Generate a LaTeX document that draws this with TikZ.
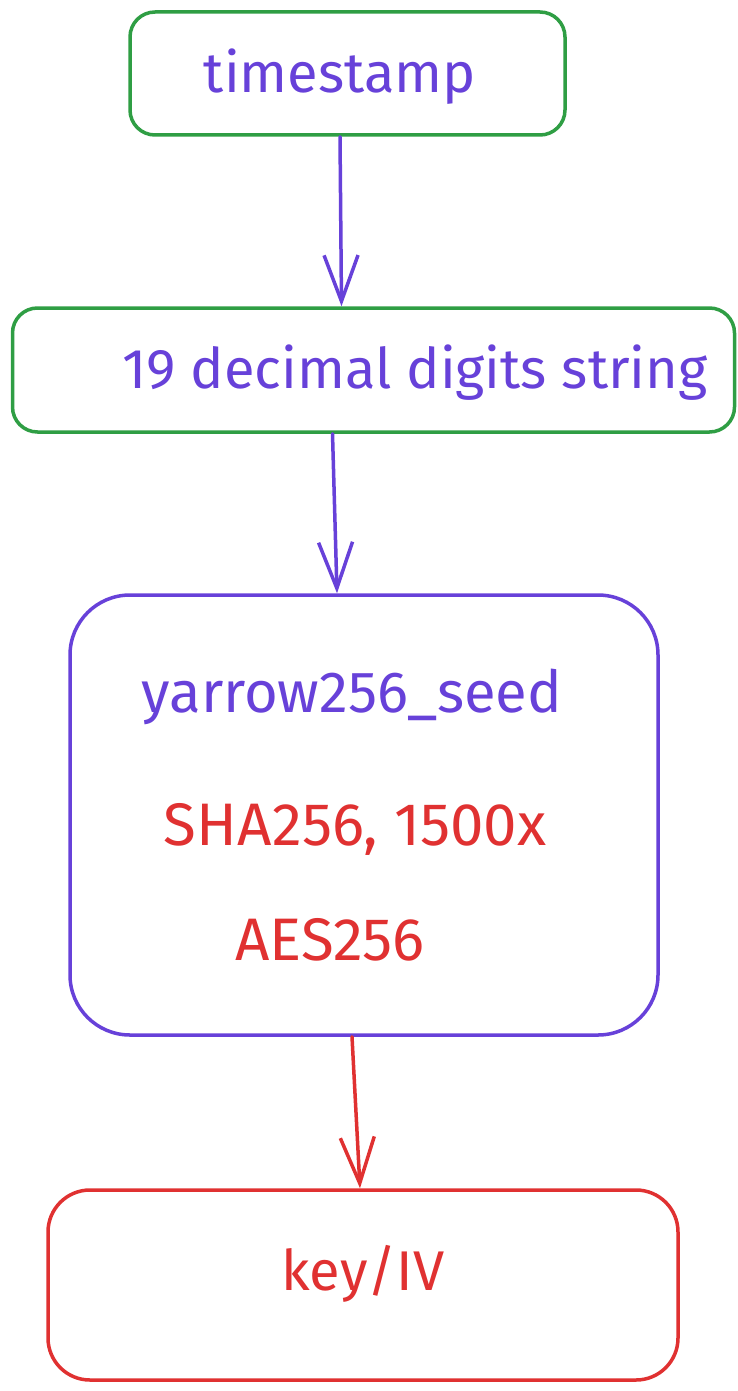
\documentclass[tikz,border=0pt]{standalone}
\usepackage{fontspec}
\setmainfont{Fira Sans}
\usepackage{xcolor}
\usetikzlibrary{arrows.meta}
\definecolor{exviolet}{HTML}{6741D9}
\definecolor{exgreen}{HTML}{2F9E44}
\definecolor{exred}{HTML}{E03131}

\tikzset{
  box/.style={draw=#1, line width=3.5pt, fill=white, inner sep=0pt},
  lbl/.style={anchor=base, inner sep=0pt, text=#1, font=\fontsize{56}{58}\selectfont},
  wide/.style={font=\fontsize{60}{62}\selectfont},
  flow/.style={draw=#1, line width=3.5pt, -{Straight Barb[length=46pt, width=34pt, line width=3.5pt]}}
}

\begin{document}
\begin{tikzpicture}[x=1pt, y=-1pt, line cap=round, line join=round]
\useasboundingbox (0,0) rectangle (737,1391);
\node[box=exgreen, rounded corners=25pt, minimum width=435pt, minimum height=123pt] (ts) at (347.5, 73.5) {};
\node[box=exgreen, rounded corners=25pt, minimum width=722pt, minimum height=124pt] (dig) at (373.5, 370) {};
\node[box=exviolet, rounded corners=60pt, minimum width=588pt, minimum height=440pt] (seed) at (364, 815) {};
\node[box=exred, rounded corners=42pt, minimum width=630pt, minimum height=190pt] (key) at (363, 1285) {};
\node[lbl=exviolet] (tstxt) at (340, 93) {timestamp};
\node[lbl=exviolet] (digtxt) at (415, 388) {19 decimal digits string};
\node[lbl=exviolet, font=\fontsize{58}{60}\selectfont] (seedtxt) at (352, 712) {yarrow256\_seed};
\node[lbl=exred, wide] (shatxt) at (355, 845) {SHA256, 1500x};
\node[lbl=exred, wide] (aestxt) at (330, 960) {AES256};
\node[lbl=exred] (keytxt) at (363, 1290) {key/IV};
\draw[flow=exviolet] ([xshift=-7.5pt]ts.south) -- ([xshift=-32pt]dig.north);
\draw[flow=exviolet] ([xshift=-41pt]dig.south) -- ([xshift=-27pt]seed.north);
\draw[flow=exred] ([xshift=-12pt]seed.south) -- ([xshift=-3pt]key.north);
\end{tikzpicture}
\end{document}
